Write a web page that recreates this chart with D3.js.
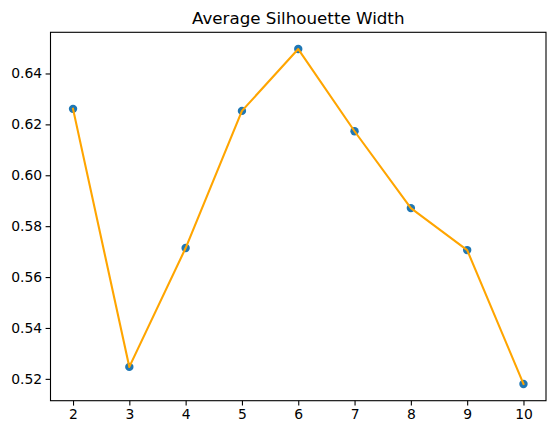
<!DOCTYPE html>
<html>
<head>
<meta charset="utf-8">
<script src="https://cdn.jsdelivr.net/npm/d3@7"></script>
<style>
  body { margin: 0; background: #fff; }
  svg { display: block; }
</style>
</head>
<body>
<div id="chart"></div>
<script>
// cluster counts and their average silhouette width
var clusters = [2, 3, 4, 5, 6, 7, 8, 9, 10];
var silhouette = [0.6261, 0.5247, 0.5714, 0.6253, 0.6496, 0.6173, 0.5871, 0.5706, 0.5180];
var xTicks = [2, 3, 4, 5, 6, 7, 8, 9, 10];
var yTicks = [0.52, 0.54, 0.56, 0.58, 0.60, 0.62, 0.64];
var title = 'Average Silhouette Width';

var width = 556, height = 435;
var margin = {top: 32.3, right: 10, bottom: 34.3, left: 50.5};
var plotW = width - margin.left - margin.right;
var plotH = height - margin.top - margin.bottom;

var svg = d3.select('#chart').append('svg')
    .attr('width', width)
    .attr('height', height)
    .style('font-family', 'DejaVu Sans, sans-serif');

// matplotlib-like 5% padding on both axes
var xMin = d3.min(clusters), xMax = d3.max(clusters);
var xPad = (xMax - xMin) * 0.05;
var yMin = d3.min(silhouette), yMax = d3.max(silhouette);
var yPad = (yMax - yMin) * 0.05;

var x = d3.scaleLinear()
    .domain([xMin - xPad, xMax + xPad])
    .range([0, plotW]);

var y = d3.scaleLinear()
    .domain([yMin - yPad, yMax + yPad])
    .range([plotH, 0]);

var g = svg.append('g')
    .attr('transform', 'translate(' + margin.left + ',' + margin.top + ')');

var xAxis = g.append('g')
    .attr('transform', 'translate(0,' + plotH + ')')
    .call(d3.axisBottom(x).tickValues(xTicks).tickFormat(d3.format('d'))
        .tickSizeOuter(0).tickSize(4.9).tickPadding(3.5));

var yAxis = g.append('g')
    .call(d3.axisLeft(y).tickValues(yTicks).tickFormat(d3.format('.2f'))
        .tickSizeOuter(0).tickSize(4.9).tickPadding(3.5));

[xAxis, yAxis].forEach(function(ax) {
    ax.select('.domain').remove();
    ax.selectAll('.tick line').attr('stroke', '#000').attr('stroke-width', 1.1);
    ax.selectAll('.tick text')
        .attr('fill', '#000')
        .style('font-family', 'DejaVu Sans, sans-serif')
        .style('font-size', '13.9px');
});

// points underneath, line on top
g.selectAll('circle.pt')
    .data(clusters)
    .enter().append('circle')
    .attr('class', 'pt')
    .attr('cx', function(d) { return x(d); })
    .attr('cy', function(d, i) { return y(silhouette[i]); })
    .attr('r', 4.2)
    .attr('fill', '#1f77b4');

var line = d3.line()
    .x(function(d) { return x(d); })
    .y(function(d, i) { return y(silhouette[i]); });

g.append('path')
    .datum(clusters)
    .attr('d', line)
    .attr('fill', 'none')
    .attr('stroke', '#ffa500')
    .attr('stroke-width', 2.1)
    .attr('stroke-linejoin', 'round')
    .attr('stroke-linecap', 'square');

// frame
g.append('rect')
    .attr('x', 0)
    .attr('y', 0)
    .attr('width', plotW)
    .attr('height', plotH)
    .attr('fill', 'none')
    .attr('stroke', '#000')
    .attr('stroke-width', 1.1);

svg.append('text')
    .attr('x', margin.left + plotW / 2)
    .attr('y', margin.top - 8.3)
    .attr('text-anchor', 'middle')
    .attr('fill', '#000')
    .style('font-size', '16.7px')
    .text(title);
</script>
</body>
</html>
